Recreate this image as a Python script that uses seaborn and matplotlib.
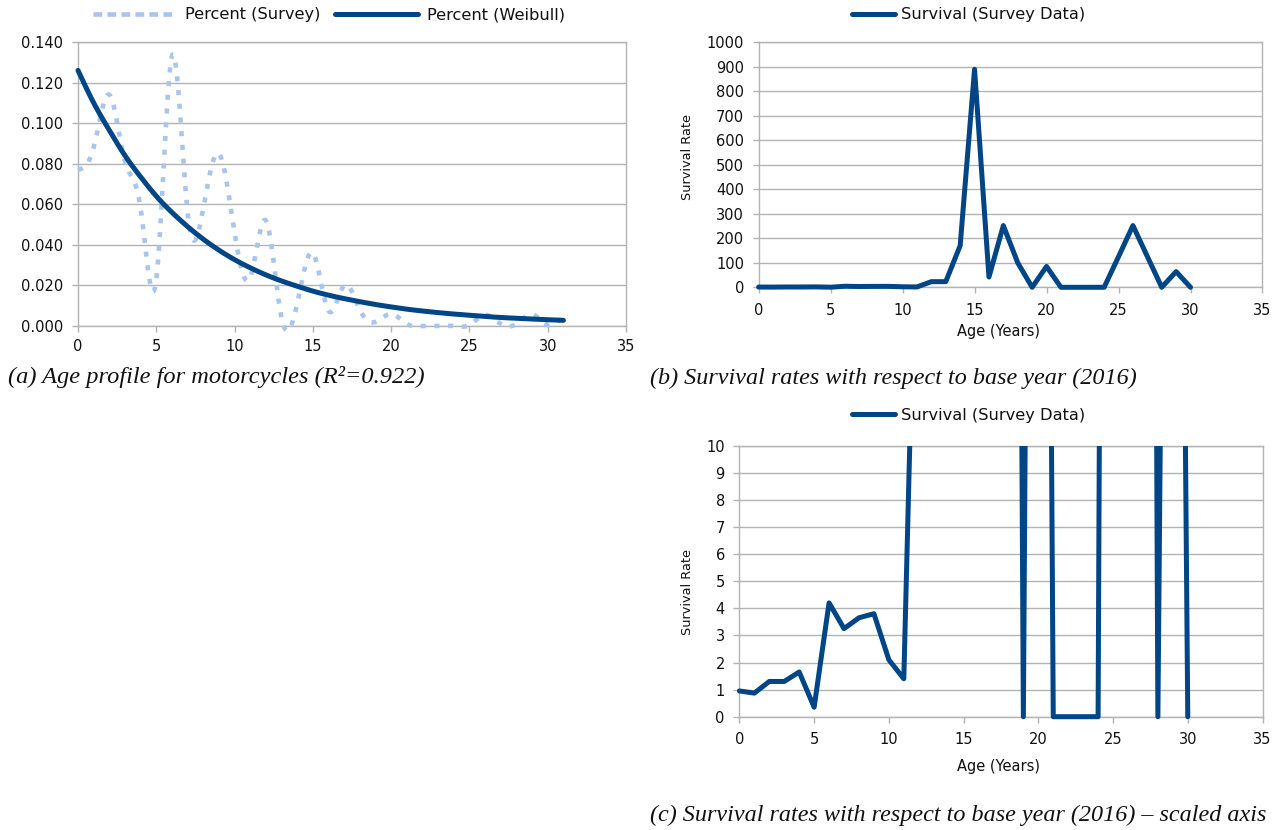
import numpy as np
import pandas as pd
import matplotlib
matplotlib.use("Agg")
import matplotlib.pyplot as plt
import seaborn as sns
from matplotlib.lines import Line2D
from matplotlib.patches import Rectangle

# ---------------- data ----------------
ages_a = list(range(32))
percent_survey = [0.077, 0.088, 0.114, 0.081, 0.058, 0.023, 0.133, 0.056,
                  0.058, 0.085, 0.046, 0.024, 0.052, 0.004, 0.011, 0.036,
                  0.0075, 0.020, 0.008, 0.002, 0.006, 0.001, 0.0, 0.0,
                  0.0, 0.0005, 0.0055, 0.001, 0.001, 0.0057, 0.0005, 0.0046]
percent_weibull = [0.126, 0.110, 0.0965, 0.084, 0.0735, 0.064, 0.056, 0.049,
                   0.0428, 0.0374, 0.0327, 0.0287, 0.0252, 0.0222, 0.0196, 0.0172,
                   0.0152, 0.0135, 0.0120, 0.0106, 0.0094, 0.0083, 0.0074, 0.0066,
                   0.0059, 0.0053, 0.0047, 0.0042, 0.0038, 0.0034, 0.0031, 0.0028]

ages_s = list(range(31))
survival = [0.95, 0.87, 1.3, 1.3, 1.65, 0.35, 4.2, 3.25, 3.65, 3.8, 2.1, 1.4,
            23, 23, 170, 890, 42, 252, 100, 0, 85, 0, 0, 0, 0, 125, 252, 126,
            0, 64, 0]

y_ticks_a = [0.0, 0.02, 0.04, 0.06, 0.08, 0.10, 0.12, 0.14]
y_ticks_b = list(range(0, 1001, 100))
y_ticks_c = list(range(0, 11))
x_ticks = list(range(0, 36, 5))

DARK = "#004586"
LIGHT = "#a9c5eb"
GRID = "#b3b3b3"
TXT = "#111111"


def smooth_curve(x, y, step=0.02):
    """Natural cubic spline through the data points (drawing style: 'smoothed line')."""
    x = np.asarray(x, float)
    y = np.asarray(y, float)
    n = len(x)
    h = np.diff(x)
    A = np.zeros((n, n))
    r = np.zeros(n)
    A[0, 0] = A[-1, -1] = 1.0
    for i in range(1, n - 1):
        A[i, i - 1] = h[i - 1]
        A[i, i] = 2 * (h[i - 1] + h[i])
        A[i, i + 1] = h[i]
        r[i] = 6 * ((y[i + 1] - y[i]) / h[i] - (y[i] - y[i - 1]) / h[i - 1])
    M = np.linalg.solve(A, r)
    xs = np.arange(x[0], x[-1] + step / 2, step)
    idx = np.clip(np.searchsorted(x, xs) - 1, 0, n - 2)
    x0, x1 = x[idx], x[idx + 1]
    hh = x1 - x0
    a = (x1 - xs) / hh
    b = (xs - x0) / hh
    ys = (a * y[idx] + b * y[idx + 1]
          + ((a ** 3 - a) * M[idx] + (b ** 3 - b) * M[idx + 1]) * hh ** 2 / 6)
    return xs, ys


sns.set_theme(style="white")
plt.rcParams["font.family"] = ["DejaVu Sans"]

W, H = 1278, 830
fig = plt.figure(figsize=(W / 100, H / 100), dpi=100)


def px_axes(left, right, top, bottom):
    return fig.add_axes([left / W, 1 - bottom / H, (right - left) / W, (bottom - top) / H])


def style(ax, yticks, fmt, xpad):
    ax.set_xlim(0, 35)
    ax.set_xticks(x_ticks)
    ax.set_ylim(yticks[0], yticks[-1])
    ax.set_yticks(yticks)
    ax.set_yticklabels([fmt(v) for v in yticks])
    ax.grid(axis="y", color=GRID, lw=1.0)
    ax.grid(axis="x", visible=False)
    ax.set_axisbelow(True)
    for s in ax.spines.values():
        s.set_visible(True)
        s.set_color(GRID)
        s.set_linewidth(1.0)
    ax.tick_params(axis="both", which="major", direction="out", length=4.3, width=1.0,
                   color=GRID, labelsize=10.5, labelcolor=TXT,
                   bottom=True, left=True)
    ax.tick_params(axis="y", pad=6.2)
    ax.tick_params(axis="x", pad=xpad)


def loose_clip(ax):
    # plot-area clip, a little loose at the bottom so lines lying on 0 keep full width;
    # series drawn above the frame like the reference
    rect = Rectangle((-0.01, -0.02), 1.02, 1.02, transform=ax.transAxes,
                     facecolor="none", edgecolor="none")
    for ln in ax.lines:
        ln.set_clip_box(None)
        ln.set_clip_path(rect)
        ln.set_zorder(3)


LEG_FS = 11.7

# ---------------- (a) ----------------
axA = px_axes(78, 626, 42, 326)
xs, ys = smooth_curve(ages_a, percent_survey)
sns.lineplot(x=xs, y=ys, ax=axA, color=LIGHT, lw=3.3, sort=False)
xw, yw = smooth_curve(ages_a, percent_weibull)
sns.lineplot(x=xw, y=yw, ax=axA, color=DARK, lw=3.6, sort=False)
axA.lines[0].set_linestyle((0, (1.1, 1.9)))
axA.lines[0].set_dash_capstyle("butt")
style(axA, y_ticks_a, lambda v: f"{v:.3f}", 4.8)
loose_clip(axA)
handles = [Line2D([], [], color=LIGHT, lw=3.3, linestyle=(0, (1.9, 1.15))),
           Line2D([], [], color=DARK, lw=3.6)]
axA.legend(handles, ["Percent (Survey)", "Percent (Weibull)"], loc="center",
           bbox_to_anchor=(329 / W, 1 - 15 / H), bbox_transform=fig.transFigure,
           ncol=2, frameon=False, fontsize=LEG_FS, handlelength=5.15, handletextpad=0.55,
           columnspacing=0.86, borderpad=0, labelcolor=TXT)
fig.text(8 / W, 1 - 377 / H, "(a) Age profile for motorcycles (R²=0.922)",
         family="Liberation Serif", style="italic", fontsize=17.6, ha="left", va="center",
         color=TXT)

# ---------------- (b) ----------------
axB = px_axes(758.6, 1262.5, 42.3, 287.3)
sns.lineplot(x=ages_s, y=survival, ax=axB, color=DARK, lw=3.6)
style(axB, y_ticks_b, lambda v: f"{v}", 7.0)
loose_clip(axB)
axB.set_xlabel("Age (Years)", fontsize=10.5, color=TXT, va="center")
axB.xaxis.set_label_coords(0.4765, -0.1824)
axB.set_ylabel("Survival Rate", fontsize=9.3, color=TXT, va="center")
axB.yaxis.set_label_coords(-0.142, 0.53)
axB.legend([Line2D([], [], color=DARK, lw=3.6)], ["Survival (Survey Data)"], loc="center",
           bbox_to_anchor=(969 / W, 1 - 15 / H), bbox_transform=fig.transFigure,
           frameon=False, fontsize=LEG_FS, handlelength=2.6, handletextpad=0.42,
           borderpad=0, labelcolor=TXT)
fig.text(650 / W, 1 - 378 / H, "(b) Survival rates with respect to base year (2016)",
         family="Liberation Serif", style="italic", fontsize=17.4, ha="left", va="center",
         color=TXT)

# ---------------- (c) ----------------
axC = px_axes(739.4, 1262.5, 445.7, 716.7)
sns.lineplot(x=ages_s, y=survival, ax=axC, color=DARK, lw=3.6)
style(axC, y_ticks_c, lambda v: f"{v}", 7.0)
loose_clip(axC)
axC.set_xlabel("Age (Years)", fontsize=10.5, color=TXT, va="center")
axC.xaxis.set_label_coords(0.4956, -0.1845)
axC.set_ylabel("Survival Rate", fontsize=9.3, color=TXT, va="center")
axC.yaxis.set_label_coords(-0.100, 0.46)
axC.legend([Line2D([], [], color=DARK, lw=3.6)], ["Survival (Survey Data)"], loc="center",
           bbox_to_anchor=(969 / W, 1 - 415 / H), bbox_transform=fig.transFigure,
           frameon=False, fontsize=LEG_FS, handlelength=2.6, handletextpad=0.42,
           borderpad=0, labelcolor=TXT)
fig.text(650 / W, 1 - 815 / H,
         "(c) Survival rates with respect to base year (2016) \u2013 scaled axis",
         family="Liberation Serif", style="italic", fontsize=17.4, ha="left", va="center",
         color=TXT)

fig.savefig("out.png", dpi=100, facecolor="white")
